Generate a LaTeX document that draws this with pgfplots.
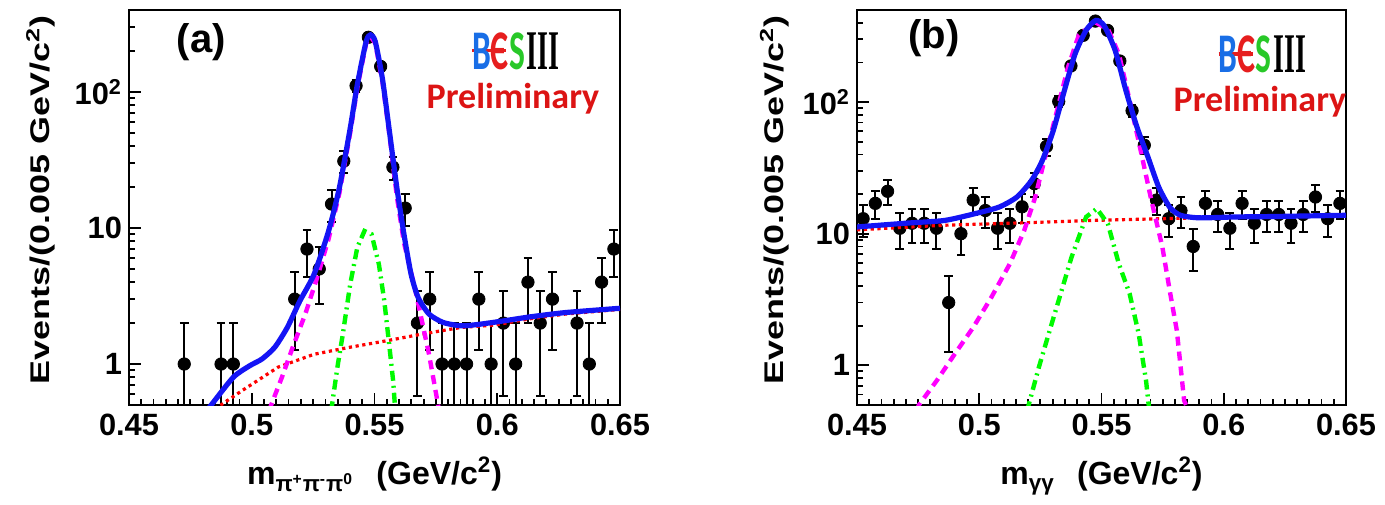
\documentclass[border=0pt]{standalone}
\usepackage{graphicx}
\usepackage{pgfplots}
\pgfplotsset{compat=1.18}
\usepackage{pgfplotstable}
\usepackage{fontspec}
\setmainfont{Liberation Sans}
\newfontfamily\carlito{Carlito}
\newfontfamily\libserif{Liberation Serif}

\definecolor{fitblue}{RGB}{20,20,245}
\definecolor{sigmag}{RGB}{255,0,255}
\definecolor{pkgreen}{RGB}{0,250,0}
\definecolor{bkgred}{RGB}{255,0,0}
\definecolor{besblue}{RGB}{25,110,230}
\definecolor{besred}{RGB}{230,30,30}
\definecolor{besgreen}{RGB}{40,200,40}
\definecolor{prelred}{RGB}{220,20,20}

\newcommand{\besiii}{\raisebox{0pt}[\height][0pt]{%
  \rlap{\color{besred}\rule[8.4pt]{17pt}{1.8pt}}%
  \scalebox{0.6}[1]{\carlito\bfseries\fontsize{28pt}{28pt}\selectfont{\color{besblue}B}{\color{besred}Є}{\color{besgreen}S}}%
  \hspace{1pt}\scalebox{0.5}[1]{\libserif\bfseries\fontsize{28pt}{28pt}\selectfont III}}}
\newcommand{\prelim}{{\carlito\bfseries\fontsize{18pt}{18pt}\selectfont\color{prelred}Preliminary}}

\pgfplotstableread{
x y ep em
0.4725 1 1 0.99
0.4875 1 1 0.99
0.4925 1 1 0.99
0.5175 3 1.732 1.732
0.5225 7 2.646 2.646
0.5275 5 2.236 2.236
0.5325 15 3.873 3.873
0.5375 31 5.568 5.568
0.5425 111 10.536 10.536
0.5475 252 15.875 15.875
0.5525 154 12.410 12.410
0.5575 28 5.292 5.292
0.5625 14 3.742 3.742
0.5675 2 1.414 1.414
0.5725 3 1.732 1.732
0.5775 1 1 0.99
0.5825 1 1 0.99
0.5875 1 1 0.99
0.5925 3 1.732 1.732
0.5975 1 1 0.99
0.6025 2 1.414 1.414
0.6075 1 1 0.99
0.6125 4 2 2
0.6175 2 1.414 1.414
0.6225 3 1.732 1.732
0.6325 2 1.414 1.414
0.6375 1 1 0.99
0.6425 4 2 2
0.6475 7 2.646 2.646
}\dataA

\pgfplotstableread{
x y e
0.4525 13 3.606
0.4575 17 4.123
0.4625 21 4.583
0.4675 11 3.317
0.4725 12 3.464
0.4775 12 3.464
0.4825 11 3.317
0.4875 3 1.732
0.4925 10 3.162
0.4975 18 4.243
0.5025 15 3.873
0.5075 11 3.317
0.5125 12 3.464
0.5175 16 4
0.5225 24 4.899
0.5275 46 6.782
0.5325 101 10.050
0.5375 188 13.711
0.5425 321 17.916
0.5475 412 20.298
0.5525 350 18.708
0.5575 205 14.318
0.5625 86 9.274
0.5675 47 6.856
0.5725 18 4.243
0.5775 13 3.606
0.5825 15 3.873
0.5875 8 2.828
0.5925 17 4.123
0.5975 14 3.742
0.6025 11 3.317
0.6075 17 4.123
0.6125 12 3.464
0.6175 14 3.742
0.6225 14 3.742
0.6275 12 3.464
0.6325 14 3.742
0.6375 19 4.359
0.6425 13 3.606
0.6475 17 4.123
}\dataB

\tikzset{
  fitline/.style={fitblue, line width=2.6pt, smooth, tension=0.4},
  sigline/.style={sigmag, line width=2.2pt, dash pattern=on 4.5pt off 3pt},
  pkline/.style={pkgreen, line width=2.2pt, dash pattern=on 5pt off 2.5pt on 1pt off 2.5pt},
  bkline/.style={bkgred, line width=1.6pt, dash pattern=on 1.6pt off 1.8pt},
}

\begin{document}
\begin{tikzpicture}
\useasboundingbox (0,0) rectangle (692.5pt,252pt);

% ---------------- panel (a)
\begin{axis}[
    at={(64.5pt,49.5pt)}, anchor=south west,
    scale only axis, width=245.5pt, height=197.5pt,
    ymode=log,
    xmin=0.45, xmax=0.65, ymin=0.5, ymax=400,
    clip mode=individual,
    axis line style={line width=1.2pt},
    tick align=inside, xtick pos=bottom, ytick pos=left,
    major tick length=6pt, minor tick length=3pt,
    every tick/.style={black, line width=0.9pt},
    xtick={0.45,0.5,0.55,0.6,0.65},
    xticklabels={0.45,0.5,0.55,0.6,0.65},
    minor x tick num=9,
    ytick={1,10,100},
    yticklabels={1,10,10\textsuperscript{2}},
    minor ytick={0.6,0.7,0.8,0.9,2,3,4,5,6,7,8,9,20,30,40,50,60,70,80,90,200,300,400},
    ticklabel style={font=\fontsize{15.4pt}{16pt}\selectfont\bfseries},
    xticklabel style={yshift=-1pt},
    ylabel={\scalebox{1.33}[1]{Events/(0.005 GeV/c\textsuperscript{2})}},
    ylabel style={font=\fontsize{13.5pt}{14pt}\selectfont\bfseries, anchor=base,
                  at={(axis description cs:-0.161,0.519)}},
    xlabel={m\textsubscript{π\textsuperscript{+}π\textsuperscript{-}π\textsuperscript{0}}\hspace{0.7em}(GeV/c\textsuperscript{2})},
    xlabel style={font=\fontsize{16pt}{17pt}\selectfont\bfseries, anchor=base,
                  at={(axis description cs:0.5,-0.2025)}},
]
\addplot[only marks, mark=*, mark size=3.1pt, black,
      error bars/.cd, y dir=both, y explicit, error mark=-,
      error mark options={black, line width=1pt, mark size=2.2pt, rotate=90},
      error bar style={line width=1pt}]
  table[x=x, y=y, y error plus=ep, y error minus=em]{\dataA};

\addplot[bkline] coordinates {(0.480,0.42) (0.4874,0.5) (0.4962,0.64) (0.5108,0.95) (0.5254,1.18) (0.5401,1.33) (0.5547,1.48) (0.5693,1.66) (0.5854,1.86) (0.5985,1.93) (0.6132,2.15) (0.6278,2.33) (0.65,2.52)};
\addplot[pkline] coordinates {(0.5322,0.45) (0.5327,0.5) (0.5349,0.95) (0.5371,1.66) (0.5401,3.86) (0.543,7.2) (0.5459,9.5) (0.5488,9.0) (0.5518,5.4) (0.554,2.9) (0.5561,1.33) (0.5576,0.75) (0.5583,0.5) (0.5585,0.45)};
\addplot[sigline] coordinates {(0.5070,0.45) (0.5079,0.5) (0.5123,0.8) (0.5167,1.33) (0.5218,2.33) (0.5262,4.08) (0.5313,8.3) (0.5357,18) (0.5401,50) (0.543,107) (0.5466,228) (0.5484,255) (0.5503,228) (0.5532,120) (0.5561,48) (0.5591,17) (0.562,7.8) (0.5635,6.0) (0.5664,3.65) (0.5693,2.08) (0.5722,1.18) (0.5744,0.71) (0.5759,0.5) (0.5764,0.45)};
\addplot[fitline] coordinates {(0.4815,0.45) (0.4835,0.5) (0.4925,0.8) (0.4991,0.97) (0.5042,1.09) (0.5094,1.33) (0.5145,1.86) (0.5196,2.91) (0.5254,4.57) (0.5313,9.5) (0.5357,19.8) (0.5401,54) (0.543,113) (0.5466,235) (0.5484,263) (0.5503,235) (0.5532,126) (0.5561,51) (0.5591,19.8) (0.562,9.0) (0.5649,4.57) (0.5678,3.08) (0.5722,2.33) (0.578,2.02) (0.5854,1.91) (0.5927,1.96) (0.6029,2.08) (0.6132,2.22) (0.6278,2.39) (0.65,2.57)};

\node[font=\fontsize{20pt}{21pt}\selectfont\bfseries] at (rel axis cs:0.147,0.919) {(a)};
\node[inner sep=0pt] at (rel axis cs:0.788,0.897) {\besiii};
\node[inner sep=0pt, anchor=base] at (rel axis cs:0.782,0.750) {\prelim};
\end{axis}

% ---------------- panel (b)
\begin{axis}[
    at={(428.5pt,49.5pt)}, anchor=south west,
    scale only axis, width=244.5pt, height=197.5pt,
    ymode=log,
    xmin=0.45, xmax=0.65, ymin=0.5, ymax=500,
    clip mode=individual,
    axis line style={line width=1.2pt},
    tick align=inside, xtick pos=bottom, ytick pos=left,
    major tick length=6pt, minor tick length=3pt,
    every tick/.style={black, line width=0.9pt},
    xtick={0.45,0.5,0.55,0.6,0.65},
    xticklabels={0.45,0.5,0.55,0.6,0.65},
    minor x tick num=9,
    ytick={1,10,100},
    yticklabels={1,10,10\textsuperscript{2}},
    minor ytick={0.6,0.7,0.8,0.9,2,3,4,5,6,7,8,9,20,30,40,50,60,70,80,90,200,300,400},
    ticklabel style={font=\fontsize{15.4pt}{16pt}\selectfont\bfseries},
    xticklabel style={yshift=-1pt},
    ylabel={\scalebox{1.33}[1]{Events/(0.005 GeV/c\textsuperscript{2})}},
    ylabel style={font=\fontsize{13.5pt}{14pt}\selectfont\bfseries, anchor=base,
                  at={(axis description cs:-0.150,0.519)}},
    xlabel={m\textsubscript{γγ}\hspace{0.7em}(GeV/c\textsuperscript{2})},
    xlabel style={font=\fontsize{16pt}{17pt}\selectfont\bfseries, anchor=base,
                  at={(axis description cs:0.5,-0.2025)}},
]
\addplot[only marks, mark=*, mark size=3.1pt, black,
      error bars/.cd, y dir=both, y explicit, error mark=-,
      error mark options={black, line width=1pt, mark size=2.2pt, rotate=90},
      error bar style={line width=1pt}]
  table[x=x, y=y, y error=e]{\dataB};

\addplot[bkline] coordinates {(0.45,10.7) (0.4857,11.6) (0.5154,12.05) (0.5452,12.6) (0.5749,13.0) (0.6047,13.4) (0.65,13.8)};
\addplot[pkline] coordinates {(0.5195,0.45) (0.5202,0.5) (0.5244,0.97) (0.5288,1.84) (0.5333,3.5) (0.5377,6.6) (0.5437,13.4) (0.5481,15.5) (0.5526,11.9) (0.5571,5.9) (0.5615,3.5) (0.5652,1.74) (0.5682,0.77) (0.5693,0.5) (0.5697,0.45)};
\addplot[sigline] coordinates {(0.4745,0.45) (0.4753,0.5) (0.4827,0.77) (0.4901,1.23) (0.4976,1.95) (0.505,3.3) (0.5125,5.9) (0.5184,10.6) (0.5229,19) (0.5273,40.5) (0.5318,86) (0.5363,184) (0.5407,322) (0.5474,403) (0.5526,360) (0.5571,232) (0.5615,103) (0.566,43) (0.5704,17.9) (0.5749,7.9) (0.5779,3.7) (0.5808,1.84) (0.5838,0.54) (0.5846,0.5) (0.5849,0.45)};
\addplot[fitline] coordinates {(0.45,11.25) (0.4708,12.05) (0.4857,12.6) (0.4976,14.1) (0.508,15.9) (0.5154,19.0) (0.5214,25.4) (0.5258,36) (0.5303,61) (0.5348,122) (0.5392,232) (0.5437,351) (0.5477,417) (0.5511,380) (0.5556,246) (0.56,122) (0.5645,64.5) (0.569,38.2) (0.5734,22.6) (0.5779,15.9) (0.5823,13.8) (0.5898,13.2) (0.6047,13.4) (0.6195,13.5) (0.65,13.8)};

\node[font=\fontsize{20pt}{21pt}\selectfont\bfseries] at (rel axis cs:0.157,0.929) {(b)};
\node[inner sep=0pt] at (rel axis cs:0.829,0.888) {\besiii};
\node[inner sep=0pt, anchor=base] at (rel axis cs:0.824,0.743) {\prelim};
\end{axis}
\end{tikzpicture}
\end{document}
